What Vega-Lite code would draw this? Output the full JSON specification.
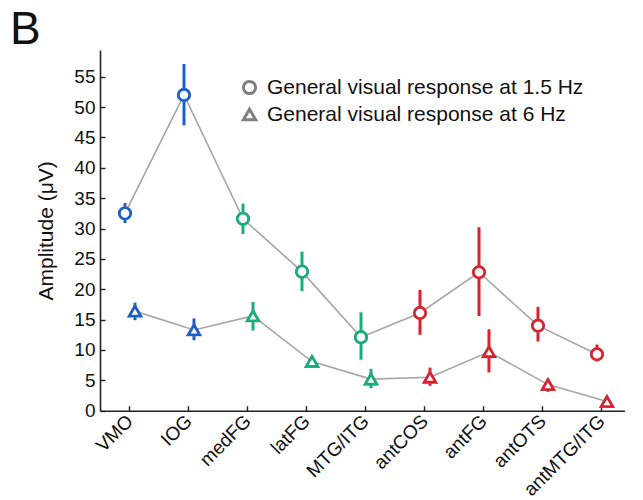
{
  "$schema": "https://vega.github.io/schema/vega-lite/v6.json",
  "autosize": {"type": "none"},
  "width": 524.5,
  "height": 360.7,
  "padding": {"left": 100, "top": 50, "right": 18.5, "bottom": 89.3},
  "background": "white",
  "config": {
    "font": "Liberation Sans",
    "view": {"stroke": null},
    "axis": {"grid": false, "domainColor": "#222", "domainWidth": 1.6, "tickColor": "#222", "tickWidth": 1.4, "labelColor": "#111", "titleColor": "#111", "labelFont": "Liberation Sans", "titleFont": "Liberation Sans"}
  },
  "title": {"text": "B", "anchor": "start", "frame": "group", "fontSize": 46, "font": "Liberation Sans", "fontWeight": "normal", "color": "#111", "dx": -90, "dy": 47, "offset": 7, "baseline": "alphabetic"},
  "data": {"values": [
    {"idx": 1, "region": "VMO", "grp": "blue", "series": "General visual response at 1.5 Hz", "amp": 32.5, "lo": 30.9, "hi": 34.2},
    {"idx": 2, "region": "IOG", "grp": "blue", "series": "General visual response at 1.5 Hz", "amp": 52.0, "lo": 47.0, "hi": 57.1},
    {"idx": 3, "region": "medFG", "grp": "green", "series": "General visual response at 1.5 Hz", "amp": 31.6, "lo": 29.1, "hi": 34.1},
    {"idx": 4, "region": "latFG", "grp": "green", "series": "General visual response at 1.5 Hz", "amp": 22.9, "lo": 19.7, "hi": 26.2},
    {"idx": 5, "region": "MTG/ITG", "grp": "green", "series": "General visual response at 1.5 Hz", "amp": 12.1, "lo": 8.4, "hi": 16.2},
    {"idx": 6, "region": "antCOS", "grp": "red", "series": "General visual response at 1.5 Hz", "amp": 16.1, "lo": 12.5, "hi": 19.9},
    {"idx": 7, "region": "antFG", "grp": "red", "series": "General visual response at 1.5 Hz", "amp": 22.8, "lo": 15.6, "hi": 30.2},
    {"idx": 8, "region": "antOTS", "grp": "red", "series": "General visual response at 1.5 Hz", "amp": 14.0, "lo": 11.4, "hi": 17.1},
    {"idx": 9, "region": "antMTG/ITG", "grp": "red", "series": "General visual response at 1.5 Hz", "amp": 9.3, "lo": 8.1, "hi": 10.9},
    {"idx": 1, "region": "VMO", "grp": "blue", "series": "General visual response at 6 Hz", "amp": 16.4, "lo": 14.9, "hi": 17.8},
    {"idx": 2, "region": "IOG", "grp": "blue", "series": "General visual response at 6 Hz", "amp": 13.3, "lo": 11.6, "hi": 15.2},
    {"idx": 3, "region": "medFG", "grp": "green", "series": "General visual response at 6 Hz", "amp": 15.6, "lo": 13.2, "hi": 17.9},
    {"idx": 4, "region": "latFG", "grp": "green", "series": "General visual response at 6 Hz", "amp": 8.1, "lo": 7.1, "hi": 9.0},
    {"idx": 5, "region": "MTG/ITG", "grp": "green", "series": "General visual response at 6 Hz", "amp": 5.2, "lo": 3.7, "hi": 6.9},
    {"idx": 6, "region": "antCOS", "grp": "red", "series": "General visual response at 6 Hz", "amp": 5.5, "lo": 4.1, "hi": 7.1},
    {"idx": 7, "region": "antFG", "grp": "red", "series": "General visual response at 6 Hz", "amp": 9.7, "lo": 6.3, "hi": 13.4},
    {"idx": 8, "region": "antOTS", "grp": "red", "series": "General visual response at 6 Hz", "amp": 4.3, "lo": 3.1, "hi": 5.0},
    {"idx": 9, "region": "antMTG/ITG", "grp": "red", "series": "General visual response at 6 Hz", "amp": 1.5, "lo": 1.1, "hi": 2.0}
  ]},
  "encoding": {
    "x": {"field": "region", "type": "nominal", "sort": ["VMO", "IOG", "medFG", "latFG", "MTG/ITG", "antCOS", "antFG", "antOTS", "antMTG/ITG"],
      "scale": {"paddingInner": 0.661, "paddingOuter": 0.2756, "align": 0.615, "round": false},
      "axis": {"title": null, "labelAngle": -45, "labelAlign": "right", "labelBaseline": "middle", "labelFontSize": 19, "tickSize": -5, "labelPadding": 12, "domainWidth": 1.6}},
    "xOffset": {"field": "series", "type": "nominal", "sort": ["General visual response at 1.5 Hz", "General visual response at 6 Hz"], "scale": {"paddingInner": 0, "paddingOuter": 0}},
    "y": {"field": "amp", "type": "quantitative",
      "scale": {"domain": [0, 59.4], "nice": false, "zero": true},
      "axis": {"title": "Amplitude (μV)", "titleFontSize": 21, "titleFontWeight": "normal", "titlePadding": 17, "values": [0, 5, 10, 15, 20, 25, 30, 35, 40, 45, 50, 55], "labelFontSize": 19, "tickSize": -5, "labelPadding": 10}}
  },
  "layer": [
    {
      "mark": {"type": "line", "color": "#a6a6a6", "strokeWidth": 1.6},
      "encoding": {"detail": {"field": "series"}, "order": {"field": "idx", "type": "quantitative"}}
    },
    {
      "mark": {"type": "rule", "strokeWidth": 3},
      "encoding": {
        "y": {"field": "lo", "type": "quantitative"},
        "y2": {"field": "hi"},
        "color": {"field": "grp", "type": "nominal", "scale": {"domain": ["blue", "green", "red"], "range": ["#1b5fcd", "#14b07a", "#e01f2d"]}, "legend": null}
      }
    },
    {
      "mark": {"type": "point", "filled": true, "fill": "white", "stroke": "#7f7f7f", "strokeWidth": 3, "opacity": 1, "size": 125},
      "encoding": {
        "shape": {"field": "series", "type": "nominal", "scale": {"domain": ["General visual response at 1.5 Hz", "General visual response at 6 Hz"], "range": ["circle", "triangle-up"]},
          "legend": {"title": null, "orient": "none", "legendX": 139, "legendY": 27, "labelFontSize": 21, "labelLimit": 500, "labelColor": "#111", "labelFont": "Liberation Sans", "symbolSize": 150, "symbolStrokeWidth": 3, "rowPadding": 3, "labelOffset": 7, "padding": 0}}
      }
    },
    {
      "mark": {"type": "point", "filled": true, "fill": "white", "fillOpacity": 1, "strokeWidth": 2.6, "opacity": 1, "size": 125},
      "encoding": {
        "stroke": {"field": "grp", "type": "nominal", "scale": {"domain": ["blue", "green", "red"], "range": ["#1b5fcd", "#14b07a", "#e01f2d"]}, "legend": null},
        "shape": {"field": "series", "type": "nominal", "legend": null}
      }
    }
  ]
}
